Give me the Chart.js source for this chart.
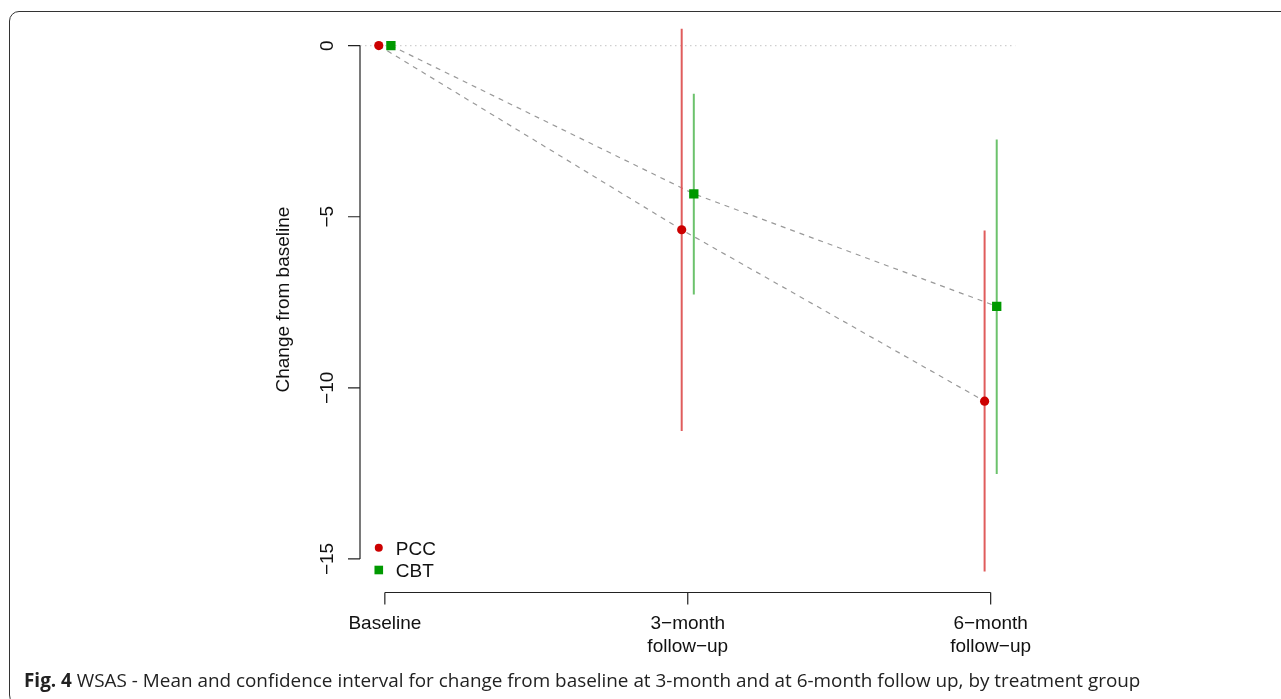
<!DOCTYPE html>
<html>
<head>
<meta charset="utf-8">
<title>WSAS change from baseline</title>
<script src="https://cdn.jsdelivr.net/npm/chart.js@4.4.0/dist/chart.umd.min.js"></script>
<style>
  html, body { margin: 0; padding: 0; background: #fff; width: 1281px; height: 699px; overflow: hidden; }
  #wrap { position: relative; width: 1281px; height: 699px; }
  #frame {
    position: absolute; left: 9px; top: 10.5px; width: 1400px; height: 692px;
    border: 1.6px solid #333; border-radius: 10px; pointer-events: none;
  }
  #chart { position: absolute; left: 0; top: 0; }
  #caption {
    position: absolute; left: 24px; top: 671px; white-space: nowrap;
    font-family: "Open Sans", sans-serif; font-size: 18.9px; line-height: 19px; color: #222;
  }
  #caption b { font-weight: 700; }
</style>
</head>
<body>
<div id="wrap">
  <div id="frame"></div>
  <canvas id="chart" width="1281" height="699"></canvas>
  <div id="caption"><b>Fig. 4</b> WSAS - Mean and confidence interval for change from baseline at 3-month and at 6-month follow up, by treatment group</div>
</div>
<script>
// --- Data ---
const timePoints = [1, 2, 3];
const timeLabels = [['Baseline'], ['3−month', 'follow−up'], ['6−month', 'follow−up']];
const yTicks = [0, -5, -10, -15];
const groupNames = ['PCC', 'CBT'];

const pccMean  = [0, -5.38, -10.39];
const pccLower = [null, -11.26, -15.37];
const pccUpper = [null, 0.49, -5.40];

const cbtMean  = [0, -4.33, -7.62];
const cbtLower = [null, -7.27, -12.52];
const cbtUpper = [null, -1.41, -2.74];

// --- Look ---
const PCC_POINT = '#cc0000';
const CBT_POINT = '#009900';
const PCC_CI = '#e05c5c';
const CBT_CI = '#6cc26c';
const OFFSET = 0.02;          // horizontal dodge of the two groups
const X_MIN = 0.918, X_MAX = 3.082;
const Y_MIN = -15.98, Y_MAX = 1.14;
const FONT = '19px "Liberation Sans", Arial, sans-serif';

function meanPoints(means, dx) {
    return timePoints.map((t, i) => ({ x: t + dx, y: means[i] }));
}

function ciSegments(lower, upper, dx) {
    const out = [];
    timePoints.forEach((t, i) => {
        if (lower[i] === null) return;
        out.push({ x: t + dx, y: upper[i] }, { x: t + dx, y: lower[i] }, { x: t + dx, y: null });
    });
    return out;
}

// R-style axes, labels and legend drawn from the chart's own scales
const rAxes = {
    id: 'rAxes',
    afterDraw(chart) {
        const { ctx, scales: { x, y }, chartArea } = chart;
        ctx.save();
        ctx.strokeStyle = '#222';
        ctx.lineWidth = 1.2;
        ctx.fillStyle = '#111';
        ctx.font = FONT;

        // y axis
        const ax = chartArea.left;
        ctx.beginPath();
        ctx.moveTo(ax, y.getPixelForValue(yTicks[0]));
        ctx.lineTo(ax, y.getPixelForValue(yTicks[yTicks.length - 1]));
        yTicks.forEach(t => {
            const py = y.getPixelForValue(t);
            ctx.moveTo(ax, py);
            ctx.lineTo(ax - 12, py);
        });
        ctx.stroke();
        ctx.textAlign = 'center';
        ctx.textBaseline = 'alphabetic';
        yTicks.forEach(t => {
            const py = y.getPixelForValue(t);
            ctx.save();
            ctx.translate(ax - 27, py);
            ctx.rotate(-Math.PI / 2);
            ctx.fillText(t < 0 ? '−' + Math.abs(t) : String(t), 0, 0);
            ctx.restore();
        });
        // y title
        ctx.save();
        ctx.translate(289, (chartArea.top + chartArea.bottom) / 2);
        ctx.rotate(-Math.PI / 2);
        ctx.fillText('Change from baseline', 0, 0);
        ctx.restore();

        // x axis
        const ay = chartArea.bottom;
        ctx.beginPath();
        ctx.moveTo(x.getPixelForValue(timePoints[0]), ay);
        ctx.lineTo(x.getPixelForValue(timePoints[timePoints.length - 1]), ay);
        timePoints.forEach(t => {
            const px = x.getPixelForValue(t);
            ctx.moveTo(px, ay);
            ctx.lineTo(px, ay + 12);
        });
        ctx.stroke();
        timePoints.forEach((t, i) => {
            const px = x.getPixelForValue(t);
            timeLabels[i].forEach((line, j) => ctx.fillText(line, px, ay + 36.5 + j * 23));
        });

        // legend
        const lx = x.getPixelForValue(timePoints[0] - OFFSET);
        ctx.textAlign = 'left';
        ctx.fillStyle = PCC_POINT;
        ctx.beginPath();
        ctx.arc(lx, 547.7, 4, 0, Math.PI * 2);
        ctx.fill();
        ctx.fillStyle = CBT_POINT;
        ctx.fillRect(lx - 4.3, 570 - 4.3, 8.6, 8.6);
        ctx.fillStyle = '#111';
        ctx.fillText(groupNames[0], lx + 17, 554.5);
        ctx.fillText(groupNames[1], lx + 17, 577);
        ctx.restore();
    }
};

new Chart(document.getElementById('chart'), {
    type: 'scatter',
    data: {
        datasets: [
            {   // PCC means
                data: meanPoints(pccMean, -OFFSET),
                pointStyle: 'circle', pointRadius: 4.6,
                backgroundColor: PCC_POINT, borderColor: PCC_POINT, borderWidth: 0,
                showLine: false, order: 0
            },
            {   // CBT means
                data: meanPoints(cbtMean, OFFSET),
                pointStyle: 'rect', pointRadius: 6.6,
                backgroundColor: CBT_POINT, borderColor: CBT_POINT, borderWidth: 0,
                showLine: false, order: 0
            },
            {   // PCC confidence intervals
                data: ciSegments(pccLower, pccUpper, -OFFSET),
                showLine: true, spanGaps: false, pointRadius: 0,
                borderColor: PCC_CI, borderWidth: 2, order: 1
            },
            {   // CBT confidence intervals
                data: ciSegments(cbtLower, cbtUpper, OFFSET),
                showLine: true, spanGaps: false, pointRadius: 0,
                borderColor: CBT_CI, borderWidth: 2, order: 1
            },
            {   // PCC trend
                data: meanPoints(pccMean, -OFFSET),
                showLine: true, pointRadius: 0,
                borderColor: '#999', borderWidth: 1.2, borderDash: [5, 5], order: 2
            },
            {   // CBT trend
                data: meanPoints(cbtMean, OFFSET),
                showLine: true, pointRadius: 0,
                borderColor: '#999', borderWidth: 1.2, borderDash: [5, 5], order: 2
            },
            {   // reference line at zero
                data: [{ x: X_MIN, y: 0 }, { x: X_MAX, y: 0 }],
                showLine: true, pointRadius: 0,
                borderColor: '#cfcfcf', borderWidth: 1.2, borderDash: [1.5, 3.5], order: 3
            }
        ]
    },
    options: {
        responsive: false,
        devicePixelRatio: 1,
        animation: false,
        layout: { padding: { left: 360, right: 265.5, top: 5.8, bottom: 106.5 } },
        scales: {
            x: { type: 'linear', min: X_MIN, max: X_MAX, display: false },
            y: { type: 'linear', min: Y_MIN, max: Y_MAX, display: false }
        },
        plugins: {
            legend: { display: false },
            tooltip: { enabled: false }
        }
    },
    plugins: [rAxes]
});
</script>
</body>
</html>
